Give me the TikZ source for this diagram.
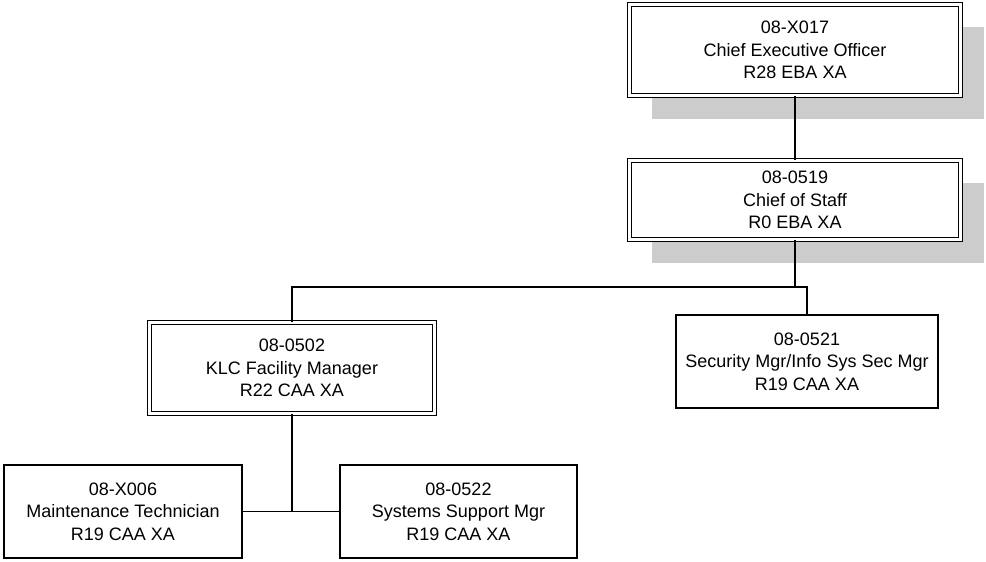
\documentclass[tikz,border=0pt]{standalone}
\usepackage{fontspec}
\setmainfont{Liberation Sans}
\usetikzlibrary{backgrounds}
\definecolor{shadowgray}{RGB}{204,204,204}

\begin{document}
\begin{tikzpicture}[x=0.75pt, y=-0.75pt,
    job/.style={rectangle, draw, fill=white, line width=1.4pt, align=center, inner sep=2pt,
      font=\fontsize{13.5}{17}\selectfont, minimum height=70pt},
    headjob/.style={job, double, line width=1.1pt, double distance=1.8pt},
    wire/.style={line width=1.1pt}]
    \useasboundingbox (0,0) rectangle (986,561);
    %org chart
    \node[headjob, minimum width=248pt, minimum height=68pt] at (795,50) (ceo){08-X017\\Chief Executive Officer\\R28 EBA XA};
    \node[headjob, minimum width=248pt, minimum height=59pt] at (795,200) (cos){08-0519\\Chief of Staff\\R0 EBA XA};
    \node[headjob, minimum width=214pt, minimum height=68pt] at (292,368) (klc){08-0502\\KLC Facility Manager\\R22 CAA XA};
    \node[job, minimum width=197pt] at (807,361.5) (sec){08-0521\\Security Mgr/Info Sys Sec Mgr\\R19 CAA XA};
    \node[job, minimum width=179pt] at (123,511.5) (maint){08-X006\\Maintenance Technician\\R19 CAA XA};
    \node[job, minimum width=178pt] at (458.5,511.5) (sys){08-0522\\Systems Support Mgr\\R19 CAA XA};
    \coordinate (split) at (795,287);
    \coordinate (join) at (292,511.5);
    \draw[wire] (ceo) -- (cos);
    \draw[wire] (cos) -- (split);
    \draw[wire] (klc.north) -- (klc.north |- split) -- (sec.north |- split) -- (sec.north);
    \draw[wire] (klc) -- (join);
    \draw[wire] (maint) -- (sys);
    \begin{scope}[on background layer]
      \foreach \n in {ceo, cos}
        \fill[shadowgray] ([shift={(23,23)}]\n.north west) rectangle ([shift={(23,23)}]\n.south east);
    \end{scope}
  \end{tikzpicture}
\end{document}
